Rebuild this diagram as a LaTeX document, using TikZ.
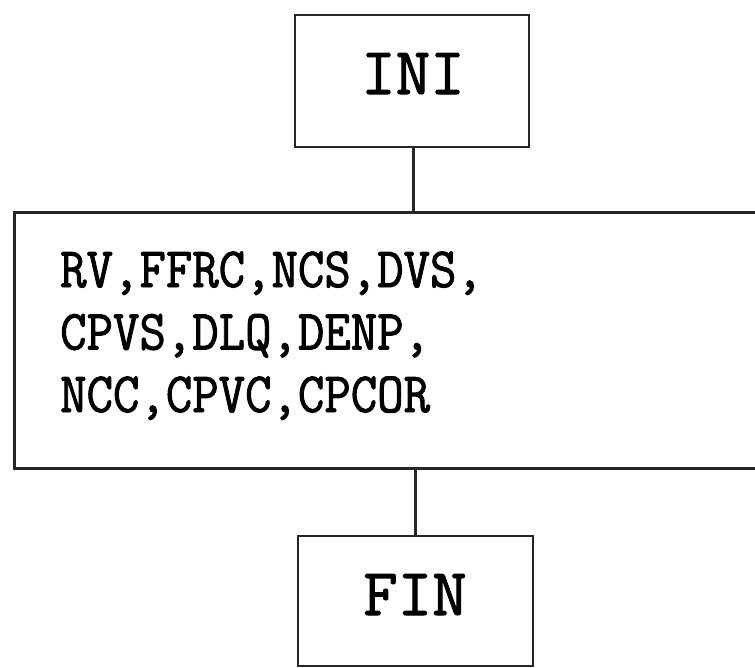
\documentclass[tikz,border=0pt]{standalone}
\usepackage{fontspec}
\newfontfamily\boxfont[FakeBold=1.6]{Latin Modern Mono}
\newfontfamily\midfont[FakeBold=1.6,FakeStretch=0.9]{Latin Modern Mono}
\begin{document}
\begin{tikzpicture}[x=1pt,y=-1pt,
  box/.style={draw=black!85,line width=2.6pt,inner sep=0pt,rectangle},
  bigtxt/.style={inner sep=0pt,anchor=base,font=\boxfont\fontsize{67}{70}\selectfont},
  midtxt/.style={inner sep=0pt,anchor=base west,font=\midfont\fontsize{57}{62}\selectfont},
  conn/.style={draw=black!85,line width=3pt}]
\useasboundingbox (0,0) rectangle (755,667);
\clip (0,0) rectangle (755,667);
\fill[white] (0,0) rectangle (755,667);
\node[box,minimum width=234pt,minimum height=132pt] (ini) at (412,81) {};
\node[bigtxt] (initxt) at (413,94) {INI};
\node[box,anchor=north west,minimum width=800pt,minimum height=256pt] (mid) at (13,211) {};
\node[midtxt] (l1) at (60,287) {RV,FFRC,NCS,DVS,};
\node[midtxt] (l2) at (60,349.5) {CPVS,DLQ,DENP,};
\node[midtxt] (l3) at (60,412) {NCC,CPVC,CPCOR};
\node[box,minimum width=235pt,minimum height=130pt] (fin) at (415.5,601) {};
\node[bigtxt] (fintxt) at (415,615) {FIN};
\draw[conn] (ini.south -| 413,0) -- (mid.north -| 413,0);
\draw[conn] (mid.south -| 415,0) -- (fin.north -| 415,0);
\end{tikzpicture}
\end{document}
